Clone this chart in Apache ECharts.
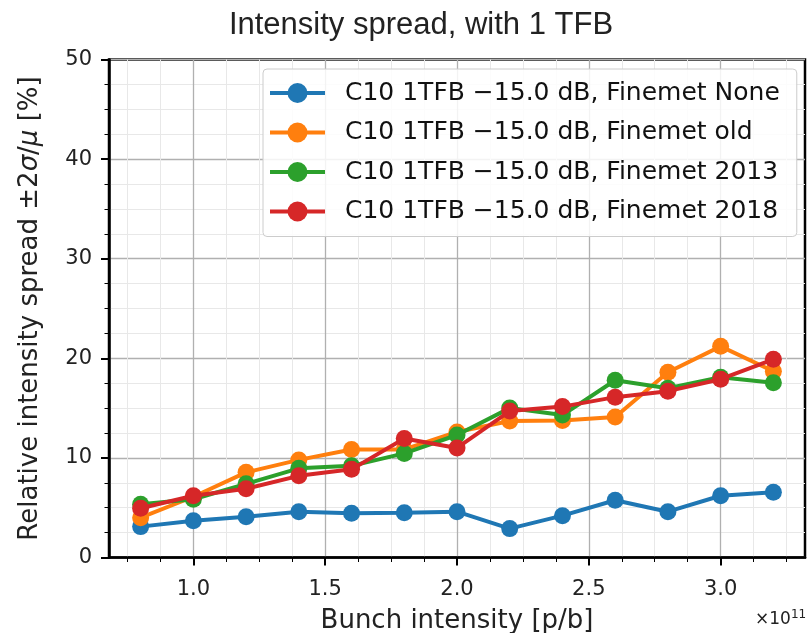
<!DOCTYPE html>
<html>
<head>
<meta charset="utf-8">
<script src="https://cdn.jsdelivr.net/npm/echarts@6/dist/echarts.min.js"></script>
<style>
html,body{margin:0;padding:0;background:#fff;}
#chart{width:811px;height:633px;}
</style>
</head>
<body>
<div id="chart"></div>
<script>
const xValues = [0.8, 1.0, 1.2, 1.4, 1.6, 1.8, 2.0, 2.2, 2.4, 2.6, 2.8, 3.0, 3.2];
const finemetNone = [3.1, 3.7, 4.1, 4.6, 4.45, 4.5, 4.6, 2.9, 4.2, 5.75, 4.6, 6.2, 6.55];
const finemetOld  = [4.0, 6.1, 8.55, 9.8, 10.85, 10.85, 12.6, 13.7, 13.75, 14.1, 18.6, 21.2, 18.7];
const finemet2013 = [5.35, 5.85, 7.4, 8.95, 9.2, 10.45, 12.3, 15.0, 14.3, 17.8, 17.0, 18.1, 17.55];
const finemet2018 = [4.95, 6.2, 6.9, 8.2, 8.85, 11.95, 11.0, 14.7, 15.15, 16.1, 16.7, 17.9, 19.9];
const seriesNames = [
  'C10 1TFB \u221215.0 dB, Finemet None',
  'C10 1TFB \u221215.0 dB, Finemet old',
  'C10 1TFB \u221215.0 dB, Finemet 2013',
  'C10 1TFB \u221215.0 dB, Finemet 2018'
];
const xMajorTicks = [1.0, 1.5, 2.0, 2.5, 3.0];
const xMinorTicks = [0.75, 0.875, 1.125, 1.25, 1.375, 1.625, 1.75, 1.875, 2.125, 2.25, 2.375, 2.625, 2.75, 2.875, 3.125, 3.25];
const colors = ['#1f77b4', '#ff7f0e', '#2ca02c', '#d62728'];

const FONT = 'DejaVu Sans';
const chart = echarts.init(document.getElementById('chart'), null, {renderer: 'canvas'});

function pairs(ys) { return xValues.map((x, i) => [x, ys[i]]); }
const allSeries = [finemetNone, finemetOld, finemet2013, finemet2018].map((ys, i) => ({
  name: seriesNames[i],
  type: 'line',
  data: pairs(ys),
  symbol: 'circle',
  symbolSize: 17,
  showSymbol: true,
  lineStyle: {color: colors[i], width: 4},
  itemStyle: {color: colors[i]},
  emphasis: {disabled: true},
  animation: false,
  z: 10 + i
}));

chart.setOption({
  animation: false,
  textStyle: {fontFamily: FONT},
  title: {
    text: 'Intensity spread, with 1 TFB',
    left: 416, top: 5, textAlign: 'center',
    textStyle: {fontFamily: 'Liberation Sans', fontSize: 31, fontWeight: 'normal', color: '#222'}
  },
  grid: {
    left: 109, right: 6, top: 59.5, bottom: 75.5,
    outerBoundsMode: 'none', containLabel: false,
    show: true, borderColor: '#000', borderWidth: 2.5, backgroundColor: 'transparent'
  },
  legend: {
    left: 263, top: 69,
    orient: 'vertical',
    itemWidth: 55, itemHeight: 25, itemGap: 14.5,
    padding: [11.5, 17, 12.5, 5],
    backgroundColor: 'rgba(255,255,255,0.85)',
    borderColor: '#cccccc', borderWidth: 1, borderRadius: 4,
    lineStyle: {width: 4},
    textStyle: {fontFamily: FONT, fontSize: 25, color: '#111', padding: [0, 0, 0, 15]},
    data: seriesNames
  },
  xAxis: [{
    type: 'value', min: 0.68, max: 3.32,
    position: 'bottom',
    name: 'Bunch intensity [p/b]',
    nameLocation: 'middle', nameGap: 51,
    nameTextStyle: {fontFamily: FONT, fontSize: 26, color: '#222'},
    axisLine: {show: true, lineStyle: {color: '#000', width: 2.5}},
    axisTick: {show: true, customValues: xMajorTicks, length: 8, lineStyle: {color: '#000', width: 2}},
    axisLabel: {customValues: xMajorTicks, formatter: v => v.toFixed(1), fontFamily: FONT, fontSize: 21, color: '#222', margin: 22},
    splitLine: {show: true, lineStyle: {color: '#b0b0b0', width: 1.3}}
  }, {
    type: 'value', min: 0.68, max: 3.32,
    position: 'bottom',
    axisLine: {show: false},
    axisTick: {show: true, customValues: xMinorTicks, length: 4.5, lineStyle: {color: '#000', width: 1}},
    axisLabel: {show: false},
    splitLine: {show: true, lineStyle: {color: '#e8e8e8', width: 1}}
  }],
  yAxis: {
    type: 'value', min: 0, max: 50, interval: 10,
    name: 'Relative intensity spread \u00b12{i|\u03c3}/{i|\u03bc} [%]',
    nameLocation: 'middle', nameGap: 66,
    nameTextStyle: {fontFamily: FONT, fontSize: 26, color: '#222', rich: {i: {fontFamily: FONT, fontSize: 26, fontStyle: 'italic', color: '#222'}}},
    axisLine: {show: true, lineStyle: {color: '#000', width: 2.5}},
    axisTick: {show: true, length: 8, lineStyle: {color: '#000', width: 2}},
    minorTick: {show: true, splitNumber: 4, length: 4.5, lineStyle: {color: '#000', width: 1}},
    axisLabel: {fontFamily: FONT, fontSize: 21, color: '#222', margin: 17},
    splitLine: {show: true, lineStyle: {color: '#b0b0b0', width: 1.3}},
    minorSplitLine: {show: true, lineStyle: {color: '#e8e8e8', width: 1}}
  },
  graphic: [{
    type: 'text', left: 755, top: 609,
    style: {
      text: '\u00d710{s|11}',
      fontFamily: FONT, fontSize: 17, fill: '#222',
      rich: {s: {fontFamily: FONT, fontSize: 12, fill: '#222', verticalAlign: 'top', padding: [0, 0, 9, 0]}}
    }
  }],
  series: allSeries
});
</script>
</body>
</html>
